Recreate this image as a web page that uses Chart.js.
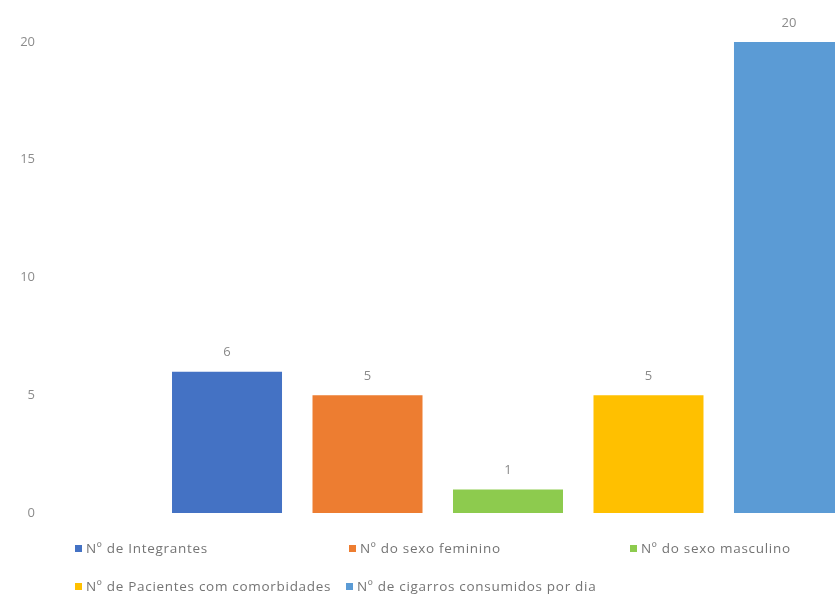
<!DOCTYPE html>
<html>
<head>
<meta charset="utf-8">
<script src="https://cdn.jsdelivr.net/npm/chart.js@4/dist/chart.umd.min.js"></script>
<style>
  html, body { margin: 0; padding: 0; background: #fff; overflow: hidden; }
  #wrap { position: relative; width: 835px; height: 595px; overflow: hidden; }
  #chart { position: absolute; left: 0; top: 0; }
  .leg { position: absolute; font: 13.5px "Open Sans", sans-serif; letter-spacing: 0.7px; color: #747474; white-space: nowrap; line-height: 18px; }
  .leg i { display: inline-block; width: 7px; height: 7px; margin-right: 4px; vertical-align: 1px; }
</style>
</head>
<body>
<div id="wrap">
  <canvas id="chart" width="980" height="595"></canvas>
  <div id="legend"></div>
</div>
<script>
const seriesNames = [
  'Nº de Integrantes',
  'Nº do sexo feminino',
  'Nº do sexo masculino',
  'Nº de Pacientes com comorbidades',
  'Nº de cigarros consumidos por dia'
];
const seriesValues = [6, 5, 1, 5, 20];
const seriesColors = ['#4472C4', '#ED7D31', '#8DCB4E', '#FFC000', '#5B9BD5'];
const yTicks = [0, 5, 10, 15, 20];

// legend item spots (excel style grid)
const legendSpots = [[75, 539], [349, 539], [630, 539], [75, 577], [346, 577]];

const datasets = seriesNames.map((name, i) => ({
  label: name,
  data: [seriesValues[i]],
  backgroundColor: seriesColors[i],
  categoryPercentage: 0.7586,
  barPercentage: 0.783
}));

// numbers above bars
const valueLabels = {
  id: 'valueLabels',
  afterDatasetsDraw(chart) {
    const ctx = chart.ctx;
    ctx.save();
    ctx.font = '13px "Open Sans", sans-serif';
    ctx.fillStyle = '#8a8a8a';
    ctx.textAlign = 'center';
    ctx.textBaseline = 'middle';
    chart.data.datasets.forEach((ds, i) => {
      chart.getDatasetMeta(i).data.forEach((bar, j) => {
        ctx.fillText(ds.data[j], bar.x, bar.y - 19);
      });
    });
    ctx.restore();
  }
};

new Chart(document.getElementById('chart'), {
  type: 'bar',
  data: { labels: [''], datasets: datasets },
  plugins: [valueLabels],
  options: {
    responsive: false,
    animation: false,
    layout: { padding: { top: 42, bottom: 82, left: 0, right: 9 } },
    plugins: { legend: { display: false }, tooltip: { enabled: false } },
    scales: {
      x: { display: false },
      y: {
        min: 0,
        max: 20,
        afterFit: (s) => { s.width = 45; },
        afterBuildTicks: (s) => { s.ticks = yTicks.map(v => ({ value: v })); },
        grid: { display: false, drawTicks: false },
        border: { display: false },
        ticks: { padding: 10, color: '#8c8c8c', font: { family: '"Open Sans", sans-serif', size: 13 } }
      }
    }
  }
});

const legendEl = document.getElementById('legend');
seriesNames.forEach((name, i) => {
  const d = document.createElement('div');
  d.className = 'leg';
  d.style.left = legendSpots[i][0] + 'px';
  d.style.top = legendSpots[i][1] + 'px';
  d.innerHTML = '<i style="background:' + seriesColors[i] + '"></i>' + name;
  legendEl.appendChild(d);
});
</script>
</body>
</html>
